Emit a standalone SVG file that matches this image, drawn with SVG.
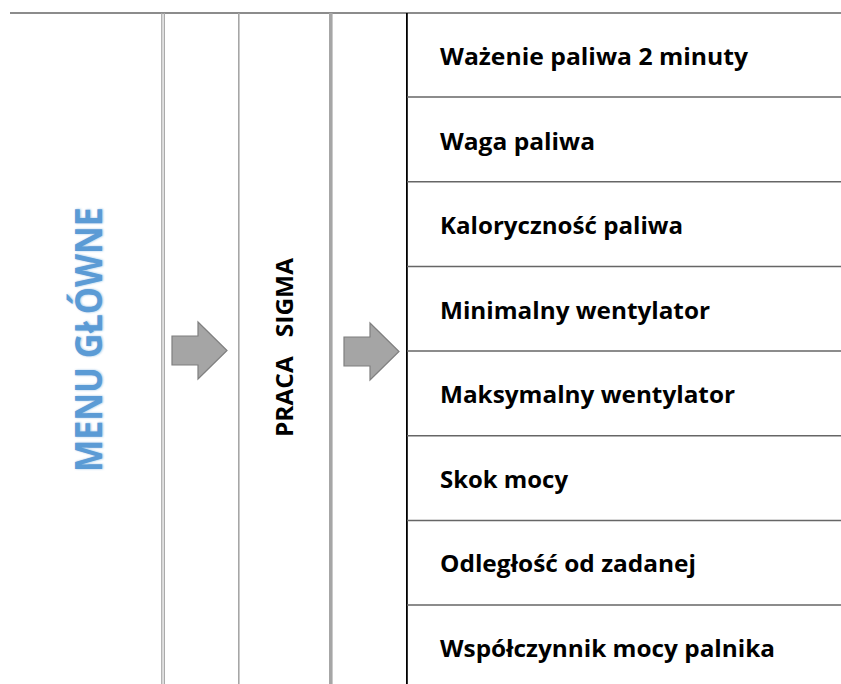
<svg xmlns="http://www.w3.org/2000/svg" width="841" height="684" viewBox="0 0 841 684">
<style>
.lbl{font-family:"Open Sans","Liberation Sans",sans-serif;font-weight:700;font-size:22.5px;fill:#000}
.hl{stroke:#666;stroke-width:1.6;fill:none}
.vg{stroke:#a6a6a6;fill:none}
.arr{fill:#a5a5a5;stroke:#7f7f7f;stroke-width:1.2}
.menu{font-family:"Open Sans","Liberation Sans",sans-serif;font-weight:700;font-size:37px;fill:#5b9bd5}
</style>
<defs>
<filter id="soft" x="-20%" y="-20%" width="140%" height="140%">
<feGaussianBlur stdDeviation="1.3"/>
</filter>
</defs>
<g id="grid">
<line class="hl" x1="10" y1="13" x2="841" y2="13"/>
<line class="vg" x1="161.8" y1="13" x2="161.8" y2="684" stroke-width="1.3"/>
<line class="vg" x1="164.3" y1="13" x2="164.3" y2="684" stroke-width="1.3"/>
<line class="vg" x1="238.8" y1="13" x2="238.8" y2="684" stroke-width="1.6"/>
<line class="vg" x1="330.8" y1="13" x2="330.8" y2="684" stroke-width="3.6"/>
<line x1="406.9" y1="13" x2="406.9" y2="684" stroke="#000" stroke-width="1.8"/>
</g>
<g id="menu">
<text class="menu" transform="translate(103,472) rotate(-90)" textLength="265" lengthAdjust="spacingAndGlyphs" filter="url(#soft)" opacity="0.6">MENU GŁÓWNE</text>
<text class="menu" transform="translate(102,472) rotate(-90)" textLength="265" lengthAdjust="spacingAndGlyphs">MENU GŁÓWNE</text>
</g>
<g id="praca">
<text class="lbl" transform="translate(293,437) rotate(-90)" textLength="179" lengthAdjust="spacingAndGlyphs" xml:space="preserve">PRACA   SIGMA</text>
</g>
<g id="connectors">
<polygon class="arr" points="172,336 198,336 198,322 227,350.5 198,379 198,365 172,365"/>
<polygon class="arr" points="344,337 370,337 370,323 399,351.5 370,380 370,366 344,366"/>
</g>
<g id="rows">
<line class="hl" x1="407" y1="97" x2="841" y2="97"/>
<line class="hl" x1="407" y1="181.8" x2="841" y2="181.8"/>
<line class="hl" x1="407" y1="266.5" x2="841" y2="266.5"/>
<line class="hl" x1="407" y1="351" x2="841" y2="351"/>
<line class="hl" x1="407" y1="435.8" x2="841" y2="435.8"/>
<line class="hl" x1="407" y1="520.5" x2="841" y2="520.5"/>
<line class="hl" x1="407" y1="605" x2="841" y2="605"/>
</g>
<g id="item1"><text class="lbl" x="440" y="65" textLength="308" lengthAdjust="spacingAndGlyphs">Ważenie paliwa 2 minuty</text></g>
<g id="item2"><text class="lbl" x="440" y="149.5" textLength="155" lengthAdjust="spacingAndGlyphs">Waga paliwa</text></g>
<g id="item3"><text class="lbl" x="440" y="234" textLength="243" lengthAdjust="spacingAndGlyphs">Kaloryczność paliwa</text></g>
<g id="item4"><text class="lbl" x="440" y="318.5" textLength="270" lengthAdjust="spacingAndGlyphs">Minimalny wentylator</text></g>
<g id="item5"><text class="lbl" x="440" y="403" textLength="295" lengthAdjust="spacingAndGlyphs">Maksymalny wentylator</text></g>
<g id="item6"><text class="lbl" x="440" y="487.5" textLength="128" lengthAdjust="spacingAndGlyphs">Skok mocy</text></g>
<g id="item7"><text class="lbl" x="440" y="572" textLength="256" lengthAdjust="spacingAndGlyphs">Odległość od zadanej</text></g>
<g id="item8"><text class="lbl" x="440" y="656.5" textLength="335" lengthAdjust="spacingAndGlyphs">Współczynnik mocy palnika</text></g>
</svg>
